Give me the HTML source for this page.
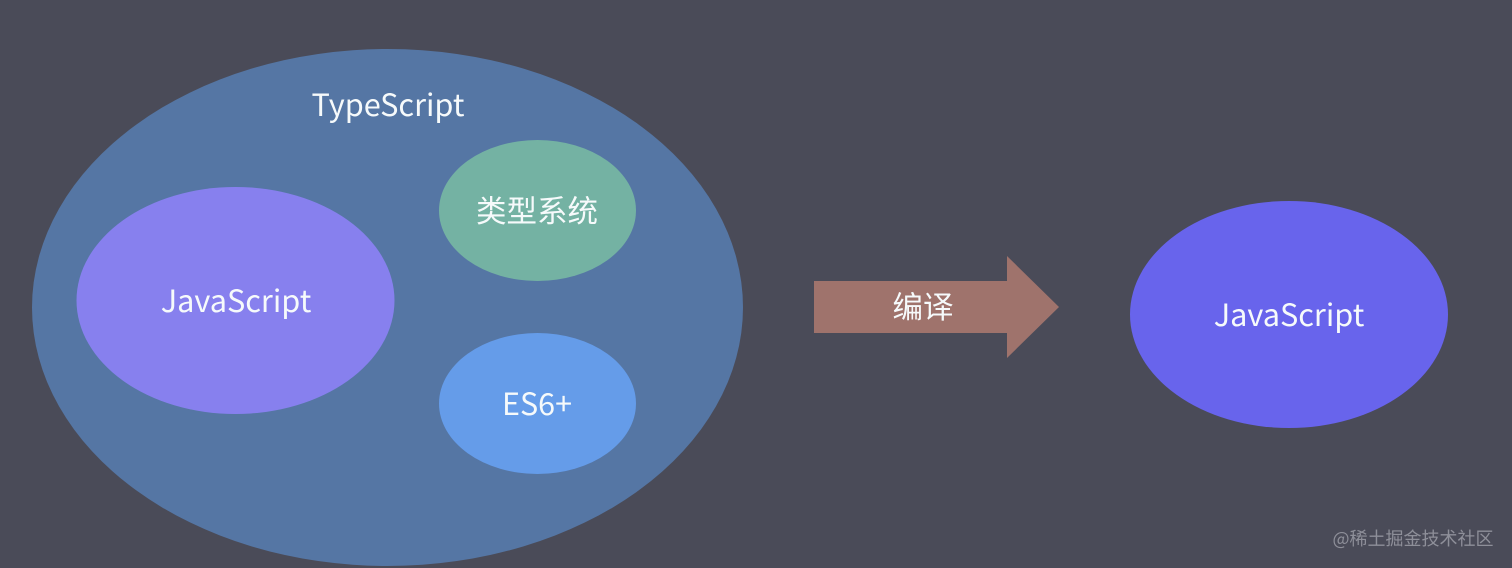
<!DOCTYPE html>
<html>
<head>
<meta charset="utf-8">
<style>
html,body{margin:0;padding:0;background:#4a4b58;width:1512px;height:568px;overflow:hidden}
svg{display:block}
text{font-family:"Noto Sans CJK SC","Liberation Sans",sans-serif;fill:#f6fafb;text-anchor:middle}
</style>
</head>
<body>
<svg width="1512" height="568" viewBox="0 0 1512 568" xmlns="http://www.w3.org/2000/svg">
<rect width="1512" height="568" fill="#4a4b58"/>
<ellipse cx="387.5" cy="307.5" rx="355.5" ry="258.5" fill="#5576a4"/>
<ellipse cx="235.5" cy="300.5" rx="159" ry="113.5" fill="#8780ee"/>
<ellipse cx="537.5" cy="210.5" rx="98.5" ry="70.5" fill="#74b2a3"/>
<ellipse cx="537.5" cy="403.5" rx="98.5" ry="70.5" fill="#659ce9"/>
<ellipse cx="1289" cy="314.5" rx="159" ry="113.5" fill="#6864ec"/>
<polygon points="814,281 1007,281 1007,256 1059,307 1007,358 1007,333 814,333" fill="#9f736c"/>
<text x="388" y="116" font-size="30.7">TypeScript</text>
<text x="236" y="312" font-size="30.7">JavaScript</text>
<text x="537" y="222" font-size="30.5">类型系统</text>
<text x="537" y="415" font-size="30.5">ES6+</text>
<text x="923" y="318" font-size="30.5">编译</text>
<text x="1289" y="326" font-size="30.7">JavaScript</text>
<text x="1413" y="545" font-size="18" style="fill:#8e8f99">@稀土掘金技术社区</text>
</svg>
</body>
</html>
